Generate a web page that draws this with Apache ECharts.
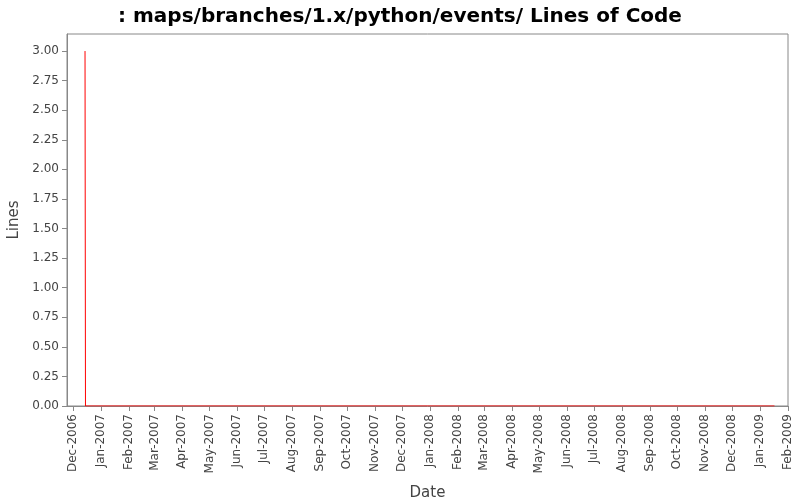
<!DOCTYPE html>
<html><head><meta charset="utf-8">
<script src="https://cdn.jsdelivr.net/npm/echarts@6/dist/echarts.min.js"></script>
</head><body style="margin:0">
<div id="c" style="width:800px;height:500px"></div>
<script>
const dates = ['2006-12-14','2006-12-14T12:00','2009-01-17'];
const lines = [3, 0, 0];
const yTicks = [0,0.25,0.5,0.75,1,1.25,1.5,1.75,2,2.25,2.5,2.75,3];
const months = ['Jan','Feb','Mar','Apr','May','Jun','Jul','Aug','Sep','Oct','Nov','Dec'];
const chart = echarts.init(document.getElementById('c'));
chart.setOption({
  animation:false,
  backgroundColor:'#fff',
  title:{text:': maps/branches/1.x/python/events/ Lines of Code',left:'center',top:2,
    textStyle:{fontFamily:'DejaVu Sans',fontSize:20,fontWeight:'bold',color:'#000'}},
  grid:{left:67,right:12,top:34,bottom:94,outerBoundsMode:'none',show:true,borderColor:'#888',borderWidth:1},
  xAxis:{type:'time',min:new Date('2006-11-24').getTime(),max:new Date('2009-02-01').getTime(),
    splitNumber:30,minInterval:28*86400000,
    name:'Date',nameLocation:'middle',nameGap:80,nameTextStyle:{fontFamily:'DejaVu Sans',fontSize:15,color:'#444'},
    axisLine:{lineStyle:{color:'#888'}},axisTick:{show:true,lineStyle:{color:'#888'}},splitLine:{show:false},
    axisLabel:{rotate:90,fontFamily:'DejaVu Sans',fontSize:12,color:'#444',hideOverlap:false,
      formatter:v=>{const d=new Date(v);return months[d.getMonth()]+'-'+d.getFullYear();}}},
  yAxis:{type:'value',min:0,max:3.144,interval:0.25,
    name:'Lines',nameLocation:'middle',nameGap:44,nameTextStyle:{fontFamily:'DejaVu Sans',fontSize:15,color:'#444'},
    axisLine:{show:true,lineStyle:{color:'#888'}},axisTick:{show:true,lineStyle:{color:'#888'}},splitLine:{show:false},
    axisLabel:{fontFamily:'DejaVu Sans',fontSize:12,color:'#444',showMaxLabel:false,
      formatter:v=>yTicks.includes(Math.round(v*100)/100)?v.toFixed(2):''}},
  series:[{type:'line',data:dates.map((d,i)=>[new Date(d).getTime(),lines[i]]),showSymbol:false,
    lineStyle:{color:'#f00',width:1},color:'#f00'}]
});
</script></body></html>
